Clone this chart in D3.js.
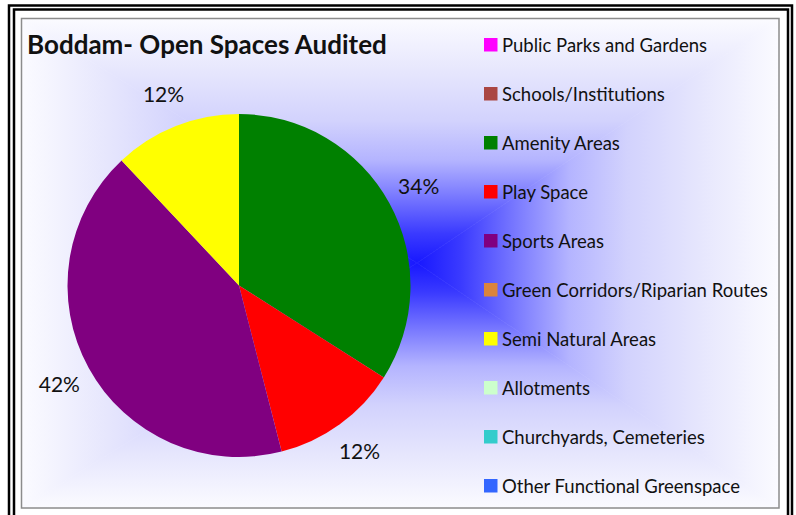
<!DOCTYPE html>
<html>
<head>
<meta charset="utf-8">
<script src="https://cdn.jsdelivr.net/npm/d3@7"></script>
<style>
  body { margin: 0; background: #fff; }
  text { font-family: Lato, "Open Sans", sans-serif; fill: #111; }
</style>
</head>
<body>
<svg id="drawing_region"></svg>
<script>
// categories in series order (legend order, pie drawn clockwise from 12 o'clock)
const categories = [
    "Public Parks and Gardens", "Schools/Institutions", "Amenity Areas", "Play Space",
    "Sports Areas", "Green Corridors/Riparian Routes", "Semi Natural Areas",
    "Allotments", "Churchyards, Cemeteries", "Other Functional Greenspace"
];
const values = [0, 0, 34, 12, 42, 0, 12, 0, 0, 0];
const chartTitle = "Boddam- Open Spaces Audited";

const width = 796, height = 515;
const area = {x0: 21.5, y0: 18.5, x1: 779, y1: 508};
const glow = {x: 417, y: 263};
const pieCx = 239, pieCy = 285.5, radius = 171.5;

const svg = d3.select('#drawing_region')
    .attr('width', width)
    .attr('height', height);

const color = d3.scaleOrdinal()
    .domain(categories)
    .range(["#ff00ff", "#aa4643", "#008000", "#ff0000", "#800080",
            "#db843d", "#ffff00", "#ccffcc", "#33cccc", "#3366ff"]);

// background: rectangular "from centre" gradient, done as 4 triangles
const defs = svg.append('defs');
const stops = [
    [0, "#1818ff"], [0.12, "#3a3aff"], [0.28, "#7c7cff"], [0.42, "#b4b4ff"],
    [0.58, "#d2d2fd"], [0.78, "#e6e6fd"], [1, "#fbfbff"]
];
const sides = [
    {id: 'gt', x2: glow.x, y2: area.y0, pts: [[area.x0, area.y0], [area.x1, area.y0]]},
    {id: 'gr', x2: area.x1, y2: glow.y, pts: [[area.x1, area.y0], [area.x1, area.y1]]},
    {id: 'gb', x2: glow.x, y2: area.y1, pts: [[area.x1, area.y1], [area.x0, area.y1]]},
    {id: 'gl', x2: area.x0, y2: glow.y, pts: [[area.x0, area.y1], [area.x0, area.y0]]}
];
sides.forEach(s => {
    const g = defs.append('linearGradient')
        .attr('id', s.id)
        .attr('gradientUnits', 'userSpaceOnUse')
        .attr('x1', glow.x).attr('y1', glow.y)
        .attr('x2', s.x2).attr('y2', s.y2);
    stops.forEach(st => g.append('stop').attr('offset', st[0]).attr('stop-color', st[1]));
    svg.append('path')
        .attr('d', `M${glow.x},${glow.y}L${s.pts[0]}L${s.pts[1]}Z`)
        .attr('fill', `url(#${s.id})`)
        .attr('stroke', `url(#${s.id})`)
        .attr('stroke-width', 0.6);
});

// frame
svg.append('rect')
    .attr('x', area.x0).attr('y', area.y0)
    .attr('width', area.x1 - area.x0).attr('height', area.y1 - area.y0)
    .attr('fill', 'none').attr('stroke', '#8c8c8c').attr('stroke-width', 1.5);
svg.append('rect')
    .attr('x', 9).attr('y', 5.5).attr('width', 783).attr('height', 520)
    .attr('fill', 'none').attr('stroke', '#000').attr('stroke-width', 2.5);
svg.append('rect')
    .attr('x', 14).attr('y', 9.5).attr('width', 774).attr('height', 520)
    .attr('fill', 'none').attr('stroke', '#000').attr('stroke-width', 2.5);

// title
svg.append('text')
    .attr('x', 27).attr('y', 53.5)
    .attr('font-size', '26px')
    .attr('font-weight', 'bold')
    .text(chartTitle);

// pie
const data = categories.map((c, i) => ({label: c, value: values[i]}));
const pie = d3.pie().sort(null).value(d => d.value);
const arcs = pie(data);
const arc = d3.arc().innerRadius(0).outerRadius(radius);
const labelArc = d3.arc().innerRadius(205).outerRadius(205);
const total = d3.sum(values);

const chart = svg.append('g')
    .attr('transform', `translate(${pieCx}, ${pieCy})`);

chart.selectAll('path')
    .data(arcs.filter(d => d.data.value > 0))
    .enter()
    .append('path')
    .attr('d', arc)
    .attr('fill', d => color(d.data.label));

chart.selectAll('text')
    .data(arcs.filter(d => d.data.value > 0))
    .enter()
    .append('text')
    .attr('transform', d => `translate(${labelArc.centroid(d)})`)
    .attr('text-anchor', 'middle')
    .attr('dy', '0.36em')
    .attr('font-size', '21px')
    .text(d => d3.format('.0%')(d.data.value / total));

// legend
const legendY = d3.scalePoint()
    .domain(categories)
    .range([45, 486]);

const legend = svg.append('g');
const item = legend.selectAll('g')
    .data(categories)
    .enter()
    .append('g')
    .attr('transform', d => `translate(484, ${legendY(d)})`);

item.append('rect')
    .attr('x', 0).attr('y', -7)
    .attr('width', 13.5).attr('height', 13.5)
    .attr('fill', d => color(d));

item.append('text')
    .attr('x', 18).attr('y', 6.5)
    .attr('font-size', '18.5px')
    .text(d => d);
</script>
</body>
</html>
